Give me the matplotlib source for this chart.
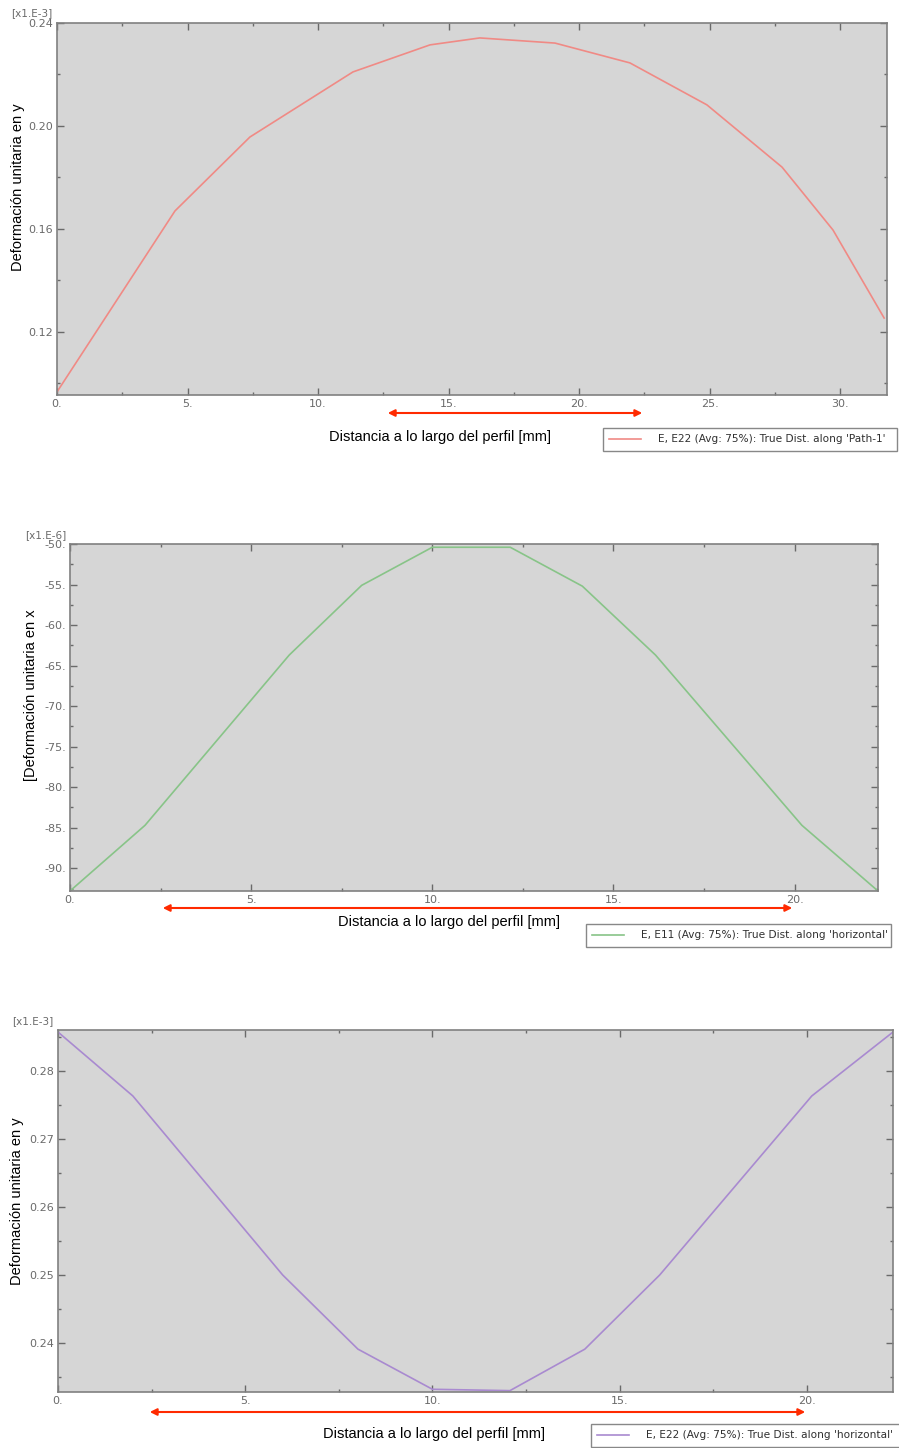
import numpy as np
import matplotlib.pyplot as plt
from matplotlib.patches import FancyArrowPatch
from matplotlib.ticker import MultipleLocator, FormatStrFormatter

# panel 1: E22 along Path-1 (x1.E-3)
dist_1 = [0.0, 4.52, 7.39, 11.34, 14.29, 16.2, 19.08, 21.95, 24.9, 27.78, 29.73, 31.69]
e22_1 = [0.0967, 0.167, 0.1957, 0.221, 0.2315, 0.2342, 0.2322, 0.2245, 0.2082, 0.184, 0.1596, 0.1254]

# panel 2: E11 along 'horizontal' (x1.E-6)
dist_2 = [0.0, 2.07, 6.05, 8.05, 10.0, 12.15, 14.14, 16.16, 20.2, 22.3]
e11_2 = [-92.8, -84.7, -63.7, -55.1, -50.4, -50.4, -55.2, -63.7, -84.7, -92.8]

# panel 3: E22 along 'horizontal' (x1.E-3)
dist_3 = [0.0, 2.0, 6.0, 8.01, 10.0, 12.07, 14.07, 16.07, 20.13, 22.3]
e22_3 = [0.2857, 0.2763, 0.25, 0.2391, 0.2332, 0.2330, 0.2391, 0.25, 0.2763, 0.2857]

W, H = 899, 1448
fig = plt.figure(figsize=(W / 100, H / 100), dpi=100)

bg = '#d6d6d6'
tick_col = '#6a6a6a'
lab_font = 'Liberation Sans'
xlabel = 'Distancia a lo largo del perfil [mm]'


def px_axes(l, t, r, b):
    return fig.add_axes([l / W, 1 - b / H, (r - l) / W, (b - t) / H])


def style(ax, xlim, ylim, xmaj, ymaj, yfmt, mult):
    ax.set_facecolor(bg)
    ax.set_xlim(*xlim)
    ax.set_ylim(*ylim)
    ax.xaxis.set_major_locator(MultipleLocator(xmaj))
    ax.xaxis.set_minor_locator(MultipleLocator(xmaj / 2))
    ax.yaxis.set_major_locator(MultipleLocator(ymaj))
    ax.yaxis.set_minor_locator(MultipleLocator(ymaj / 2))
    ax.xaxis.set_major_formatter(FormatStrFormatter('%d.'))
    ax.yaxis.set_major_formatter(FormatStrFormatter(yfmt))
    ax.tick_params(which='both', direction='in', top=True, right=True,
                   colors=tick_col, labelsize=8, pad=3)
    ax.tick_params(which='major', length=5, width=1)
    ax.tick_params(which='minor', length=2.5, width=1)
    for s in ax.spines.values():
        s.set_color('#808080')
        s.set_linewidth(1.2)
    ax.text(-0.005, 1.012, mult, transform=ax.transAxes, ha='right', va='bottom',
            fontsize=7.5, color=tick_col)


def arrow(x0, x1, y):
    fig.patches.append(FancyArrowPatch(
        (x0 / W, 1 - y / H), (x1 / W, 1 - y / H), transform=fig.transFigure,
        arrowstyle='<|-|>', mutation_scale=10, color='#ff2a00', lw=1.5))


def legend(handle, label, l, t, r):
    leg = fig.legend([handle], [label], loc='upper left',
                     bbox_to_anchor=(l / W, 1 - t / H, (r - l) / W, 0), mode='expand',
                     fontsize=7.6, frameon=True, fancybox=False, framealpha=1,
                     handlelength=3.0, handletextpad=1.6, borderpad=0.6,
                     borderaxespad=0, labelcolor='#303030')
    leg.get_frame().set_edgecolor('#888888')
    leg.get_frame().set_linewidth(1.0)


# ---- panel 1
ax1 = px_axes(57, 23, 887, 395)
l1, = ax1.plot(dist_1, e22_1, color='#f08a85', lw=1.2)
style(ax1, (0, 31.8), (0.0955, 0.24), 5, 0.04, '%.2f', '[x1.E-3]')
ax1.set_ylabel('Deformación unitaria en y', fontsize=10.5, family=lab_font)
ax1.yaxis.set_label_coords(-0.0386, 0.559)
fig.text(440 / W, 1 - 437 / H, xlabel, ha='center', va='center', fontsize=10.5, family=lab_font)
arrow(385, 645, 413)
legend(l1, "E, E22 (Avg: 75%): True Dist. along 'Path-1'", 603, 428, 897)

# ---- panel 2
ax2 = px_axes(70, 544, 878, 891)
l2, = ax2.plot(dist_2, e11_2, color='#88c488', lw=1.2)
style(ax2, (0, 22.3), (-92.8, -50), 5, 5, '%d.', '[x1.E-6]')
ax2.set_ylabel('[Deformación unitaria en x', fontsize=10.5, family=lab_font)
ax2.yaxis.set_label_coords(-0.0396, 0.565)
fig.text(449 / W, 1 - 922 / H, xlabel, ha='center', va='center', fontsize=10.5, family=lab_font)
arrow(160, 795, 908)
legend(l2, "E, E11 (Avg: 75%): True Dist. along 'horizontal'", 586, 924, 891)

# ---- panel 3
ax3 = px_axes(58, 1030, 893, 1392)
l3, = ax3.plot(dist_3, e22_3, color='#a98ad0', lw=1.2)
style(ax3, (0, 22.3), (0.2328, 0.286), 5, 0.01, '%.2f', '[x1.E-3]')
ax3.set_ylabel('Deformación unitaria en y', fontsize=10.5, family=lab_font)
ax3.yaxis.set_label_coords(-0.0407, 0.528)
fig.text(434 / W, 1 - 1434 / H, xlabel, ha='center', va='center', fontsize=10.5, family=lab_font)
arrow(147, 808, 1412)
legend(l3, "E, E22 (Avg: 75%): True Dist. along 'horizontal'", 591, 1424, 905)

fig.savefig('out.png', dpi=100)
